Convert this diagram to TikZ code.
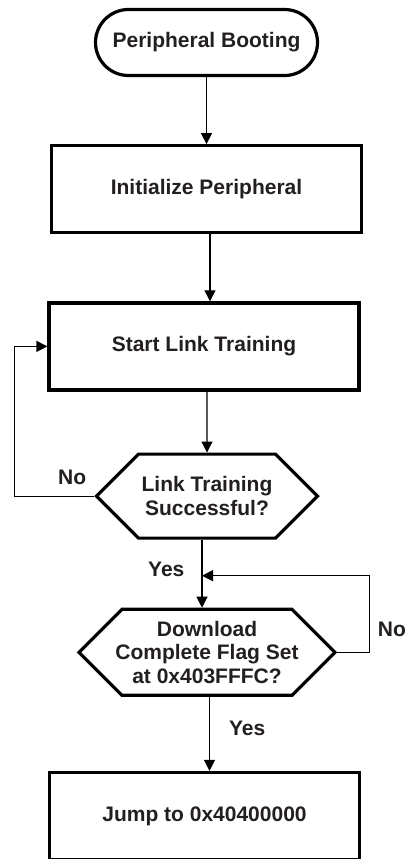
\documentclass[tikz,border=0pt]{standalone}
\usepackage{fontspec}
\setmainfont{Liberation Sans}
\usetikzlibrary{shapes,arrows.meta,positioning}
\definecolor{textgray}{RGB}{35,31,32}

\begin{document}
\begin{tikzpicture}[>={Triangle[length=11pt,width=11pt]}, line width=1.2pt, node distance=67pt] % Styles
\tikzstyle{startstop}=[draw, line width=3.2pt, rounded corners=33pt, align=center, minimum width=222pt, minimum height=66pt, text=textgray, font=\fontsize{21}{23.5}\selectfont\bfseries]
\tikzstyle{process}=[draw, line width=3.2pt, align=center, minimum width=310pt, minimum height=87pt, text=textgray, font=\fontsize{21}{23.5}\selectfont\bfseries]
\tikzstyle{decision}=[draw, line width=3.2pt, signal, signal to=west and east, align=center, inner sep=0pt, text=textgray, font=\fontsize{21}{23.5}\selectfont\bfseries]
\tikzstyle{answer}=[inner sep=0pt, text=textgray, font=\fontsize{21}{23.5}\selectfont\bfseries]
\useasboundingbox (0,0) rectangle (406pt,-859pt); % Nodes
\node[startstop] (boot) at (206.5pt,-42.5pt) {Peripheral Booting};
\node[process, below=67pt of boot] (init) {Initialize Peripheral};
\node[process, below=67pt of init, xshift=-2.5pt] (link) {Start Link Training};
\node[decision, below=61pt of link, xshift=3pt, minimum width=221pt, minimum height=84pt] (check) {Link Training\\Successful?};
\node[decision, below=68pt of check, inner xsep=-9pt, minimum width=256pt, minimum height=86pt] (flag) {Download\\Complete Flag Set\\at 0x403FFFC?};
\node[process, below=74pt of flag, xshift=-2.5pt] (jump) {Jump to 0x40400000};
\coordinate (merge) at ([xshift=-5pt, yshift=-36pt]check.south); % Connections
\draw[->] (boot) -- (init);
\draw[->] ([xshift=3.5pt]init.south) -- ([xshift=3.5pt]init.south |- link.north);
\draw[->] (check.north |- link.south) -- (check);
\draw[->] (check.west) -- node[answer, above=11pt, pos=0.275]{No} ++(-80pt,0) |- (link.west);
\draw[->] ([xshift=-5pt]check.south) -- node[answer, left=17pt, pos=0.44]{Yes} ([xshift=-5pt]check.south |- flag.north);
\draw[->] (flag.east) -- ++(32pt,0) |- node[answer, right=8pt, pos=0.15]{No} (merge);
\draw[->] ([xshift=2.5pt]flag.south) -- node[answer, right=19pt, pos=0.42]{Yes} ([xshift=2.5pt]flag.south |- jump.north);
\end{tikzpicture}
\end{document}
